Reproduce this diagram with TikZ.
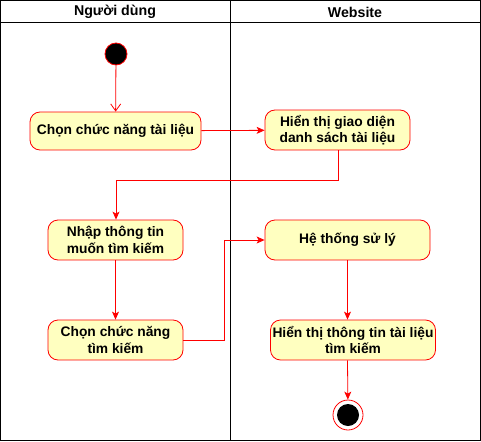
\documentclass[tikz,border=0pt]{standalone}
\usepackage{fontspec}
\setmainfont{Liberation Sans}
\usetikzlibrary{arrows.meta}
\definecolor{actfill}{HTML}{FFFFC0}
\definecolor{actline}{HTML}{FF0000}
\tikzset{
  act/.style={draw=actline, fill=actfill, rounded corners=10pt, line width=0.8pt,
    align=center, font=\bfseries\fontsize{13.8}{16.5}\selectfont, inner sep=0pt},
  flow/.style={draw=actline, line width=0.8pt, -{Stealth[length=8pt,width=7pt,inset=2pt]}},
  openflow/.style={draw=actline, line width=0.8pt, -{Straight Barb[length=7pt,width=10pt]}},
  lane/.style={draw=black, line width=1pt},
  hdr/.style={font=\bfseries\fontsize{14.2}{16}\selectfont}
}
\begin{document}
\begin{tikzpicture}[x=1pt,y=-1pt]
\useasboundingbox (0,0) rectangle (481,441);
% swimlanes
\draw[lane] (0.5,0.5) rectangle (480.5,440.5);
\draw[lane] (0.5,23) -- (480.5,23);
\draw[lane] (230.5,0.5) -- (230.5,440.5);
\node[hdr] (h1) at (115,12) {Người dùng};
\node[hdr] (h2) at (355,12) {Website};
% start
\node[circle, fill=black, draw=actline, line width=0.8pt, minimum size=22pt, inner sep=0pt] (start) at (116,54) {};
% activities
\node[act, minimum width=171pt, minimum height=38pt] (a1) at (115.5,131) {Chọn chức năng tài liệu};
\node[act, minimum width=145pt, minimum height=40pt] (a2) at (337.5,130) {Hiển thị giao diện\\danh sách tài liệu};
\node[act, minimum width=135pt, minimum height=40pt] (a3) at (115.5,240) {Nhập thông tin\\muốn tìm kiếm};
\node[act, minimum width=165pt, minimum height=40pt] (a4) at (347.5,240) {Hệ thống sử lý};
\node[act, minimum width=135pt, minimum height=40pt] (a5) at (115.5,340) {Chọn chức năng\\tìm kiếm};
\node[act, minimum width=165pt, minimum height=40pt] (a6) at (353,340) {Hiển thị thông tin tài liệu\\tìm kiếm};
% end
\node[circle, draw=actline, fill=white, line width=0.8pt, minimum size=30pt, inner sep=0pt] (endo) at (348,415) {};
\node[circle, fill=black, minimum size=22pt, inner sep=0pt] (endi) at (endo) {};
% connectors
\draw[openflow] (start) -- (a1);
\draw[flow] (a1) -- (a2);
\coordinate (b1) at (338,180);
\coordinate (b2) at (116,180);
\draw[flow] (a2.south -| b1) -- (b1) -- (b2) -- (a3.north -| b2);
\draw[flow] (a3) -- (a5);
\coordinate (c1) at (224,340);
\coordinate (c2) at (224,240);
\draw[flow] (a5.east) -- (c1) -- (c2) -- (a4.west);
\draw[flow] (a4.south) -- (a4.south |- a6.north);
\draw[flow] (a4.south |- a6.south) -- (endo);
\end{tikzpicture}
\end{document}
